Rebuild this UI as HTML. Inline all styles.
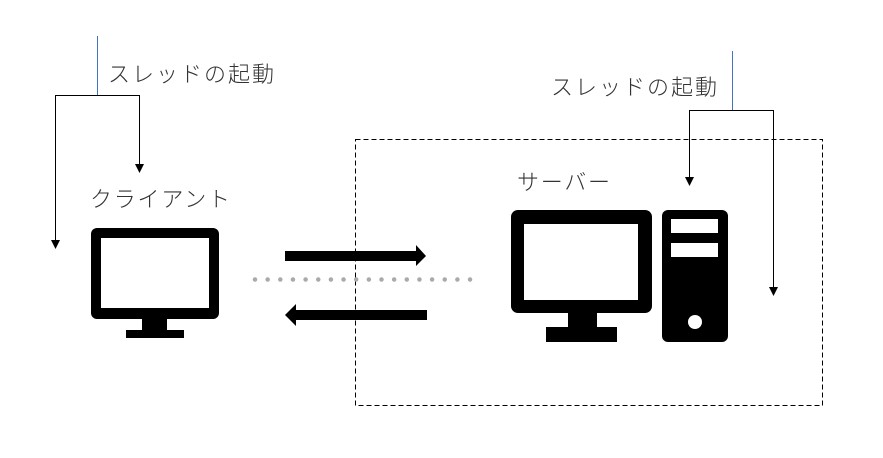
<!DOCTYPE html>
<html><head><meta charset="utf-8"><style>
body{margin:0;background:#fff;}
svg{display:block}
text{font-family:"Liberation Sans","Noto Sans CJK JP",sans-serif;font-size:22px;fill:#333;font-weight:300}
</style></head><body>
<svg width="883" height="458" viewBox="0 0 883 458">
<rect x="355.5" y="139.5" width="467" height="266" fill="none" stroke="#000" stroke-width="1" stroke-dasharray="5,3"/>
<line x1="97.5" y1="36" x2="97.5" y2="95" stroke="#4472c4" stroke-width="1"/>
<polyline points="55.5,245 55.5,95.5 139.5,95.5 139.5,168" fill="none" stroke="#000" stroke-width="1"/>
<polygon points="51,240 60,240 55.5,249" fill="#000"/>
<polygon points="135,164 144,164 139.5,173" fill="#000"/>
<text x="108" y="82" textLength="166" lengthAdjust="spacing">スレッドの起動</text>
<text x="90" y="207" textLength="140" lengthAdjust="spacing">クライアント</text>
<line x1="732.5" y1="51" x2="732.5" y2="110" stroke="#4472c4" stroke-width="1"/>
<polyline points="689.5,178 689.5,110.5 773.5,110.5 773.5,290" fill="none" stroke="#000" stroke-width="1"/>
<polygon points="685,177 694,177 689.5,186" fill="#000"/>
<polygon points="769,287 778,287 773.5,296" fill="#000"/>
<text x="551" y="95" textLength="166" lengthAdjust="spacing">スレッドの起動</text>
<text x="517" y="190" textLength="93" lengthAdjust="spacing">サーバー</text>
<rect x="91" y="228" width="128" height="91" rx="6" fill="#000"/>
<rect x="101" y="238" width="108" height="70" fill="#fff"/>
<rect x="142" y="318" width="25" height="13" fill="#000"/>
<rect x="126" y="330" width="58" height="8" fill="#000"/>
<rect x="511" y="210" width="141" height="103" rx="7" fill="#000"/>
<rect x="524" y="224" width="114" height="76" fill="#fff"/>
<rect x="568" y="312" width="29" height="16" fill="#000"/>
<rect x="546" y="327" width="71" height="15" fill="#000"/>
<rect x="662" y="210" width="66" height="132" rx="6" fill="#000"/>
<rect x="671" y="219" width="47" height="14" fill="#fff"/>
<rect x="671" y="243" width="47" height="14" fill="#fff"/>
<circle cx="695" cy="322" r="7" fill="#fff"/>
<rect x="285" y="251" width="134" height="10" fill="#000"/>
<polygon points="416,245 426,256 416,266" fill="#000"/>
<rect x="294" y="310" width="133" height="10" fill="#000"/>
<polygon points="296,304 285,315 296,326" fill="#000"/>
<line x1="255" y1="279.5" x2="475" y2="279.5" stroke="#aaa" stroke-width="4.5" stroke-linecap="round" stroke-dasharray="0,12.65"/>
</svg>
</body></html>
